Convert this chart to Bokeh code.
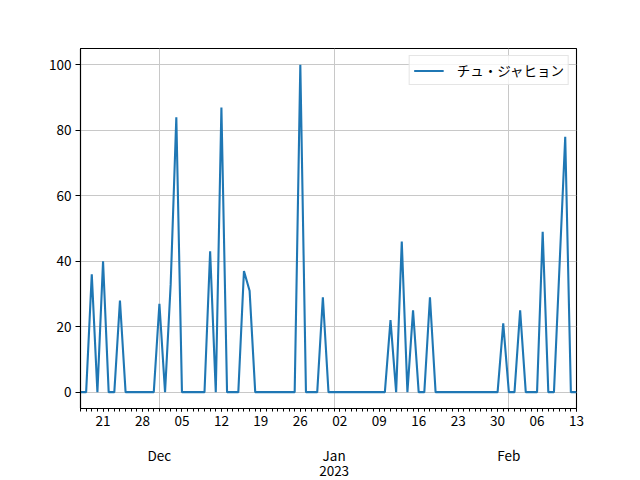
import pandas as pd
from bokeh.plotting import figure
from bokeh.models import (FixedTicker, DatetimeAxis, DatetimeTickFormatter, Range1d,
                          Legend, LegendItem, ColumnDataSource)
from bokeh.embed import file_html
from bokeh.resources import INLINE

# ---- data ----
start_date = "2022-11-17"
end_date = "2023-02-13"
dates = pd.date_range(start_date, end_date, freq="D")
values = [0, 0, 36, 0, 40, 0, 0, 28, 0, 0,
          0, 0, 0, 0, 27, 0, 33, 84, 0, 0,
          0, 0, 0, 43, 0, 87, 0, 0, 0, 37,
          31, 0, 0, 0, 0, 0, 0, 0, 0, 100,
          0, 0, 0, 29, 0, 0, 0, 0, 0, 0,
          0, 0, 0, 0, 0, 22, 0, 46, 0, 25,
          0, 0, 29, 0, 0, 0, 0, 0, 0, 0,
          0, 0, 0, 0, 0, 21, 0, 0, 25, 0,
          0, 0, 49, 0, 0, 39, 78, 0, 0]
assert len(values) == len(dates)
series_name = "チュ・ジャヒョン"
week_ticks = ["2022-11-21", "2022-11-28", "2022-12-05", "2022-12-12", "2022-12-19",
              "2022-12-26", "2023-01-02", "2023-01-09", "2023-01-16", "2023-01-23",
              "2023-01-30", "2023-02-06", "2023-02-13"]
month_ticks = ["2022-12-01", "2023-01-01", "2023-02-01"]
month_labels = ["Dec", "Jan\n2023", "Feb"]
y_ticks = [0, 20, 40, 60, 80, 100]


def ms(d):
    return pd.Timestamp(d).value / 1e6


FONT = "Noto Sans CJK JP"
FS = "13.5px"
GRID = "#c8c8c8"

src = ColumnDataSource(data=dict(x=dates, y=values))

p = figure(frame_width=496, frame_height=360, x_axis_type="datetime",
           output_backend="svg", toolbar_location=None,
           min_border_left=80, min_border_right=56, min_border_top=48, min_border_bottom=60,
           x_range=Range1d(ms(start_date), ms(end_date)), y_range=Range1d(-5, 105))

r = p.line("x", "y", source=src, line_color="#1f77b4", line_width=2.1)

p.background_fill_color = "white"
p.border_fill_color = "white"
p.outline_line_color = "black"
p.outline_line_width = 1.1
p.outline_line_alpha = 1

# main x axis: weekly labels, daily minor ticks
xa = p.xaxis[0]
xa.ticker = FixedTicker(ticks=[ms(d) for d in week_ticks],
                        minor_ticks=[ms(d) for d in dates])
xa.formatter = DatetimeTickFormatter(days="%d", months="%d", years="%d", hours="%d",
                                     minutes="%d", seconds="%d", milliseconds="%d",
                                     microseconds="%d", hourmin="%d", minsec="%d")
xa.major_tick_out = 3
xa.major_tick_in = 0
xa.minor_tick_out = 3
xa.minor_tick_in = 0
xa.major_label_standoff = 4
xa.axis_line_color = "black"
xa.axis_line_width = 1.1
xa.major_label_text_font = FONT
xa.major_label_text_font_size = FS
xa.major_label_text_color = "black"

# month axis below
ma = DatetimeAxis(ticker=FixedTicker(ticks=[ms(d) for d in month_ticks]),
                  major_label_overrides={ms(d): lab for d, lab in zip(month_ticks, month_labels)})
ma.axis_line_color = None
ma.major_tick_line_color = None
ma.minor_tick_line_color = None
ma.major_tick_out = 0
ma.major_tick_in = 0
ma.major_label_standoff = 16
ma.major_label_text_font = FONT
ma.major_label_text_font_size = FS
ma.major_label_text_color = "black"
ma.major_label_text_line_height = 0.75
p.add_layout(ma, "below")

# y axis
ya = p.yaxis[0]
ya.ticker = FixedTicker(ticks=y_ticks, minor_ticks=[])
ya.major_tick_out = 5
ya.major_tick_in = 0
ya.minor_tick_line_color = None
ya.major_label_standoff = 4
ya.axis_line_color = "black"
ya.axis_line_width = 1.1
ya.major_label_text_font = FONT
ya.major_label_text_font_size = FS
ya.major_label_text_color = "black"

# grids
p.xgrid.ticker = FixedTicker(ticks=[ms(d) for d in month_ticks])
p.xgrid.grid_line_color = GRID
p.xgrid.grid_line_width = 1
p.ygrid.grid_line_color = GRID
p.ygrid.grid_line_width = 1

legend = Legend(items=[LegendItem(label=series_name, renderers=[r])],
                location="top_right")
legend.margin = 7
legend.padding = 4
legend.spacing = 0
legend.glyph_width = 30
legend.glyph_height = 17
legend.label_height = 17
legend.label_standoff = 13
legend.label_text_font = FONT
legend.label_text_font_size = FS
legend.label_text_color = "black"
legend.border_line_color = "#cccccc"
legend.border_line_width = 1
legend.background_fill_alpha = 0.8
p.add_layout(legend)

open("out.html", "w").write(file_html(p, INLINE))
